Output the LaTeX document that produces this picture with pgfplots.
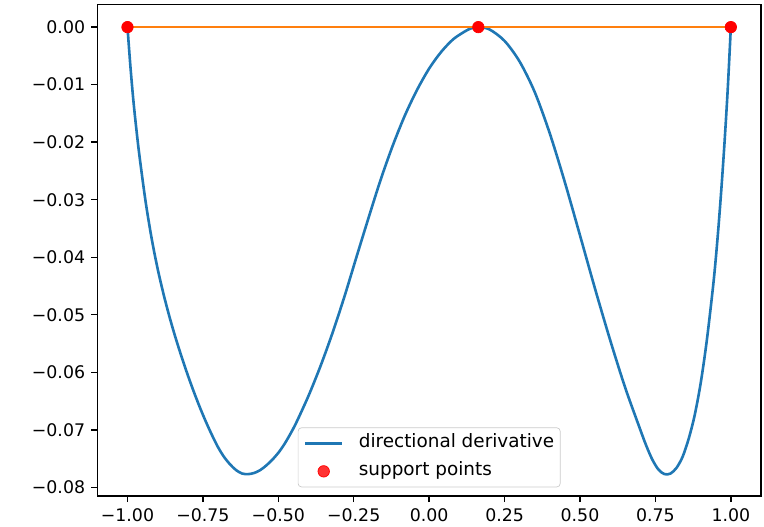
\documentclass[border=0pt]{standalone}
\usepackage{fontspec}
\setmainfont{DejaVu Sans}
\usepackage{pgfplots}
\pgfplotsset{compat=1.18}
\definecolor{tabblue}{HTML}{1F77B4}
\definecolor{taborange}{HTML}{FF7F0E}
\definecolor{legframe}{HTML}{CCCCCC}
\begin{document}
\begin{tikzpicture}
\begin{axis}[
  name=ax,
  scale only axis,
  width=382.3pt, height=283pt,
  xmin=-1.1, xmax=1.1,
  ymin=-0.0815, ymax=0.0039,
  axis line style={line width=0.8pt, black},
  tick align=outside,
  xtick pos=bottom, ytick pos=left,
  major tick length=3.5pt,
  every tick/.style={line width=0.8pt, black},
  xtick={-1,-0.75,-0.5,-0.25,0,0.25,0.5,0.75,1},
  xticklabels={−1.00,−0.75,−0.50,−0.25,0.00,0.25,0.50,0.75,1.00},
  ytick={0,-0.01,-0.02,-0.03,-0.04,-0.05,-0.06,-0.07,-0.08},
  yticklabels={0.00,−0.01,−0.02,−0.03,−0.04,−0.05,−0.06,−0.07,−0.08},
  tick label style={font=\fontsize{10}{12}\selectfont},
  legend cell align=left,
  legend style={
    at={(0.5,0)}, anchor=south, yshift=5pt,
    draw=legframe, fill=white, fill opacity=0.8, text opacity=1,
    rounded corners=2pt,
    inner xsep=3.5pt, inner ysep=2pt,
    font=\fontsize{10.6}{12.7}\selectfont,
    row sep=2.1pt, column sep=0pt,
    nodes={inner xsep=0pt, inner ysep=2pt, text height=0.75em, text depth=0.25em},
  },
  /tikz/every odd column/.append style={column sep=9pt},
]
\addplot[tabblue, line width=1.5pt, smooth, tension=0.5,
  legend image code/.code={\draw[tabblue, line width=1.5pt] (0pt,0pt) -- (21pt,0pt);}]
coordinates {
(-1.00,0) (-0.99,-0.0070) (-0.98,-0.0130) (-0.97,-0.0180) (-0.96,-0.0225)
(-0.94,-0.0303) (-0.92,-0.0367) (-0.90,-0.0420) (-0.88,-0.0465) (-0.86,-0.0505)
(-0.84,-0.0541) (-0.82,-0.0574) (-0.80,-0.0605) (-0.78,-0.0634) (-0.76,-0.0661)
(-0.74,-0.0686) (-0.72,-0.0709) (-0.70,-0.0730) (-0.68,-0.0747) (-0.66,-0.0760)
(-0.64,-0.0770) (-0.62,-0.0776) (-0.60,-0.0777) (-0.58,-0.0775) (-0.56,-0.0770)
(-0.54,-0.0762) (-0.52,-0.0752) (-0.50,-0.0740) (-0.48,-0.0725) (-0.46,-0.0707)
(-0.44,-0.0687) (-0.40,-0.0641) (-0.36,-0.0589) (-0.32,-0.0531) (-0.28,-0.0467)
(-0.24,-0.0398) (-0.20,-0.0330) (-0.16,-0.0264) (-0.12,-0.0205) (-0.08,-0.0153)
(-0.04,-0.0109) (0.00,-0.0072) (0.04,-0.0043) (0.08,-0.0021) (0.12,-0.0007)
(0.14,-0.0002) (0.163,0)
(0.20,-0.0004) (0.25,-0.0024) (0.30,-0.0060) (0.35,-0.0113) (0.40,-0.0185)
(0.45,-0.0270) (0.50,-0.0362) (0.55,-0.0455) (0.60,-0.0544) (0.65,-0.0627)
(0.70,-0.0700) (0.72,-0.0728) (0.74,-0.0752) (0.76,-0.0769) (0.78,-0.0777)
(0.80,-0.0776) (0.82,-0.0766) (0.84,-0.0747) (0.86,-0.0716) (0.88,-0.0675)
(0.90,-0.0619) (0.92,-0.0546) (0.94,-0.0456) (0.95,-0.0403) (0.96,-0.0341)
(0.97,-0.0271) (0.98,-0.0193) (0.99,-0.0105) (1.00,0)
};
\addlegendentry{directional derivative}
\addplot[taborange, line width=1.5pt, forget plot] coordinates {(-1,0) (0.163,0) (1,0)};
\addplot[only marks, mark=*, mark size=3.3pt, draw=red, fill=red,
  legend image code/.code={\fill[red] (10.5pt,0pt) circle (3.3pt);}]
coordinates {(-1,0) (0.163,0) (1,0)};
\addlegendentry{support points}
\end{axis}
\pgfresetboundingbox
\path ([shift={(-56.05pt,-17.86pt)}]ax.south west) rectangle ([shift={(1.73pt,2.7pt)}]ax.north east);
\end{tikzpicture}
\end{document}
